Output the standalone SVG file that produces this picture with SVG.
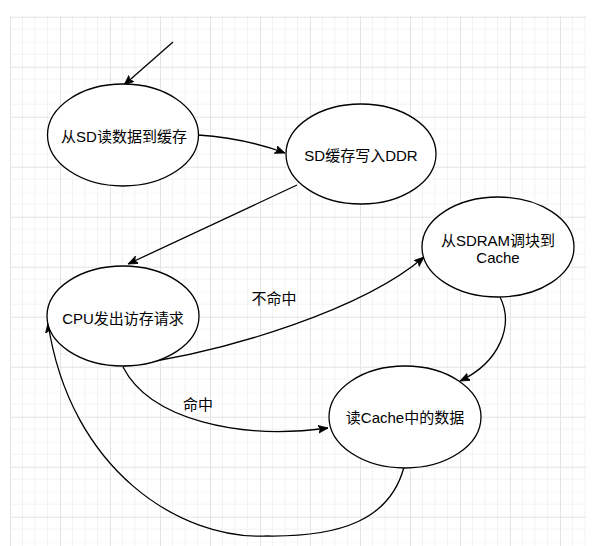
<svg xmlns="http://www.w3.org/2000/svg" width="603" height="546" viewBox="0 0 603 546">
<style>
.node{fill:#fff;stroke:#000;stroke-width:1.3}
.edge{fill:none;stroke:#000;stroke-width:1.3}
text{font-family:"Liberation Sans","Noto Sans CJK SC",sans-serif;font-size:15px;fill:#000;text-anchor:middle;dominant-baseline:central}
</style>
<defs>
<pattern id="grid" patternUnits="userSpaceOnUse" x="10" y="-8.3" width="50" height="50">
<path d="M12.5,0V50M25,0V50M37.5,0V50M0,12.5H50M0,37.5H50M0,0H50" stroke="#f3f3f3" stroke-width="1" fill="none"/>
<path d="M0.5,0V50M0,25.5H50" stroke="#e4e4e4" stroke-width="1" fill="none"/>
</pattern>
<marker id="arr" markerUnits="userSpaceOnUse" markerWidth="12" markerHeight="10" refX="10" refY="4" orient="auto" viewBox="0 0 12 10">
<path d="M0,0 L10,4 L0,8 L2.5,4 Z" fill="#000" stroke="#000" stroke-width="0.8"/>
</marker>
</defs>
<rect width="603" height="546" fill="#fff"/>
<rect x="10" y="16" width="576" height="530" fill="url(#grid)"/>
<g id="connectors">
<path class="edge" d="M173,42 L124,85" marker-end="url(#arr)"/>
<path class="edge" d="M198,135 C228,137 258,143 285,153" marker-end="url(#arr)"/>
<path class="edge" d="M297,185 L128,264" marker-end="url(#arr)"/>
<path class="edge" d="M123,366 C230,352 365,308 424,257" marker-end="url(#arr)"/>
<path class="edge" d="M123,367 C150,420 240,440 328,428" marker-end="url(#arr)"/>
<path class="edge" d="M500,297 C514,325 500,362 460,381" marker-end="url(#arr)"/>
<path class="edge" d="M404,467 C390,520 340,537 267,536 C180,540 70,470 48,323" marker-end="url(#arr)"/>
<text x="274" y="298">不命中</text>
<text x="198" y="404">命中</text>
</g>
<g id="n1"><ellipse class="node" cx="123" cy="135" rx="75.5" ry="51"/><text x="124" y="136">从SD读数据到缓存</text></g>
<g id="n2"><ellipse class="node" cx="361" cy="154" rx="75" ry="50"/><text x="361" y="155">SD缓存写入DDR</text></g>
<g id="n3"><ellipse class="node" cx="123" cy="316" rx="76" ry="50"/><text x="123" y="318">CPU发出访存请求</text></g>
<g id="n4"><ellipse class="node" cx="498" cy="247" rx="76" ry="50"/><text x="498" y="240">从SDRAM调块到</text><text x="498" y="257">Cache</text></g>
<g id="n5"><ellipse class="node" cx="405" cy="417" rx="76" ry="51"/><text x="405" y="417">读Cache中的数据</text></g>
</svg>
